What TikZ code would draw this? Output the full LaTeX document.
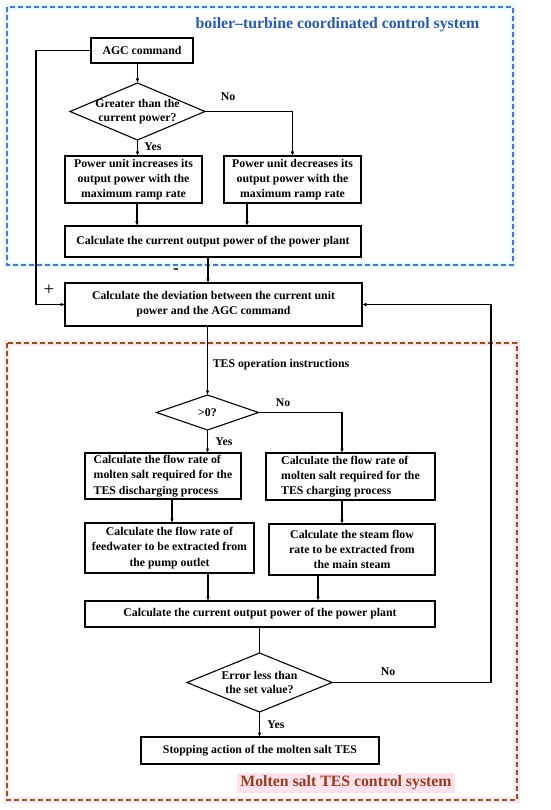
\documentclass[tikz,border=0pt]{standalone}
\usepackage{fontspec}
\setmainfont{Liberation Serif}
\usetikzlibrary{shapes.geometric,arrows.meta}
\definecolor{bluebox}{RGB}{85,115,205}
\definecolor{bluetitle}{RGB}{40,90,175}
\definecolor{brownbox}{RGB}{140,85,40}
\definecolor{browntitle}{RGB}{150,60,30}
\definecolor{halocyan}{RGB}{228,250,252}
\definecolor{halopink}{RGB}{253,232,240}
\definecolor{pinkfill}{RGB}{255,226,236}
\begin{document}
\begin{tikzpicture}[x=1pt,y=-1pt,
  txt/.style={font=\bfseries\fontsize{11.8}{15.2}\selectfont},
  box/.style={txt, draw, line width=1.1pt, rectangle, inner sep=0pt, outer sep=0pt, align=center},
  dia/.style={draw, line width=1.1pt, diamond, inner sep=0pt, outer sep=0pt},
  lbl/.style={txt, inner sep=0pt},
  conn/.style={line width=1.1pt},
  arr/.style={conn, -{Latex[length=4.5pt,width=3.6pt]}},
  region/.style={line width=1.8pt, dash pattern=on 5pt off 3pt},
  title/.style={font=\bfseries\fontsize{15.8}{18}\selectfont, inner sep=0pt}
]
\useasboundingbox (0,0) rectangle (550,810);
\fill[white] (0,0) rectangle (550,810);

% region frames
\draw[line width=6pt, halocyan] (7,7) rectangle (513,265);
\draw[region, bluebox] (7,7) rectangle (513,265);
\draw[line width=6pt, halopink] (7,343) rectangle (517,800);
\draw[region, brownbox] (7,343) rectangle (517,800);

% titles
\node[title, text=bluetitle] (t1) at (337.5,25) {boiler–turbine coordinated control system};
\node[title, text=browntitle, fill=pinkfill, inner xsep=3pt, inner ysep=3pt] (t2) at (346,783) {Molten salt TES control system};

% upper part
\node[box, minimum width=102pt, minimum height=25pt] (agc) at (142,50.5) {AGC command};
\node[dia, minimum width=135pt, minimum height=57pt] (d1) at (137.5,111.5) {};
\node[lbl, align=center, font=\bfseries\fontsize{11.8}{14}\selectfont] (d1t) at (d1) {Greater than the\\current power?};
\node[box, minimum width=137pt, minimum height=47pt] (b1) at (133.5,179.5) {Power unit increases its\\output power with the\\maximum ramp rate};
\node[box, minimum width=137pt, minimum height=47pt] (b2) at (292.5,179.5) {Power unit decreases its\\output power with the\\maximum ramp rate};
\node[box, minimum width=296pt, minimum height=31pt] (b3) at (213,241.5) {Calculate the current output power of the power plant};
\node[box, minimum width=297pt, minimum height=43pt] (b4) at (213.5,304.5) {Calculate the deviation between the current unit\\power and the AGC command};

% lower part
\node[dia, minimum width=102pt, minimum height=35pt] (d2) at (207.5,412.5) {};
\node[lbl] (d2t) at (d2) {>0?};
\node[box, align=left, minimum width=156pt, minimum height=46pt] (L1) at (163,476) {Calculate the flow rate of\\molten salt required for the\\TES discharging process};
\node[box, align=left, minimum width=169pt, minimum height=47pt] (R1) at (350.5,476.5) {Calculate the flow rate of\\molten salt required for the\\TES charging process};
\node[box, minimum width=169pt, minimum height=50pt] (L2) at (169.5,548) {Calculate the flow rate of\\feedwater to be extracted from\\the pump outlet};
\node[box, minimum width=166pt, minimum height=51pt] (R2) at (352,549.5) {Calculate the steam flow\\rate to be extracted from\\the main steam};
\node[box, minimum width=350pt, minimum height=26pt] (b5) at (260,614) {Calculate the current output power of the power plant};
\node[dia, minimum width=145pt, minimum height=59pt] (d3) at (259.5,682.5) {};
\node[lbl, align=center, font=\bfseries\fontsize{11.8}{14}\selectfont] (d3t) at (d3) {Error less than\\the set value?};
\node[box, minimum width=238pt, minimum height=27pt] (b6) at (260,750.5) {Stopping action of the molten salt TES};

% helper coordinates
\coordinate (lft) at (36,0);
\coordinate (rgt) at (491,0);
\coordinate (xa) at (137,0);
\coordinate (xb) at (247,0);
\coordinate (xc) at (208,0);
\coordinate (xr) at (342,0);
\coordinate (xl) at (172,0);
\coordinate (xs) at (318,0);

% connectors upper
\draw[arr] (agc.south -| d1.north) -- (d1.north);
\draw[arr] (d1.east) -| (b2.north);
\draw[arr] (d1.south) -- (d1.south |- b1.north);
\draw[arr] (xa |- b1.south) -- (xa |- b3.north);
\draw[arr] (xb |- b2.south) -- (xb |- b3.north);
\draw[arr] (xc |- b3.south) -- (xc |- b4.north);
\draw[arr] (agc.west) -- (agc.west -| lft) |- (b4.west);

% connectors lower
\draw[arr] (b4.south -| d2.north) -- (d2.north);
\draw[arr] (d2.south) -- (d2.south |- L1.north);
\draw[arr] (d2.east) -| (xr |- R1.north);
\draw[arr] (xl |- L1.south) -- (xl |- L2.north);
\draw[arr] (xr |- R1.south) -- (xr |- R2.north);
\draw[arr] (xc |- L2.south) -- (xc |- b5.north);
\draw[arr] (xs |- R2.south) -- (xs |- b5.north);
\draw[conn] (b5.south -| d3.north) -- (d3.north);
\draw[arr] (d3.south) -- (d3.south |- b6.north);
\draw[arr] (d3.east) -- (d3.east -| rgt) |- (b4.east);

% labels
\node[lbl] (n1) at (228,97) {No};
\node[lbl] (y1) at (153,147) {Yes};
\node[lbl, font=\bfseries\fontsize{17}{17}\selectfont] (mi) at (176,271) {-};
\node[lbl, font=\fontsize{19}{19}\selectfont] (pl) at (49,290) {+};
\node[lbl] (tes) at (281,365) {TES operation instructions};
\node[lbl] (n2) at (283,403) {No};
\node[lbl] (y2) at (224,442) {Yes};
\node[lbl] (n3) at (388,672) {No};
\node[lbl] (y3) at (276,725) {Yes};
\end{tikzpicture}
\end{document}
